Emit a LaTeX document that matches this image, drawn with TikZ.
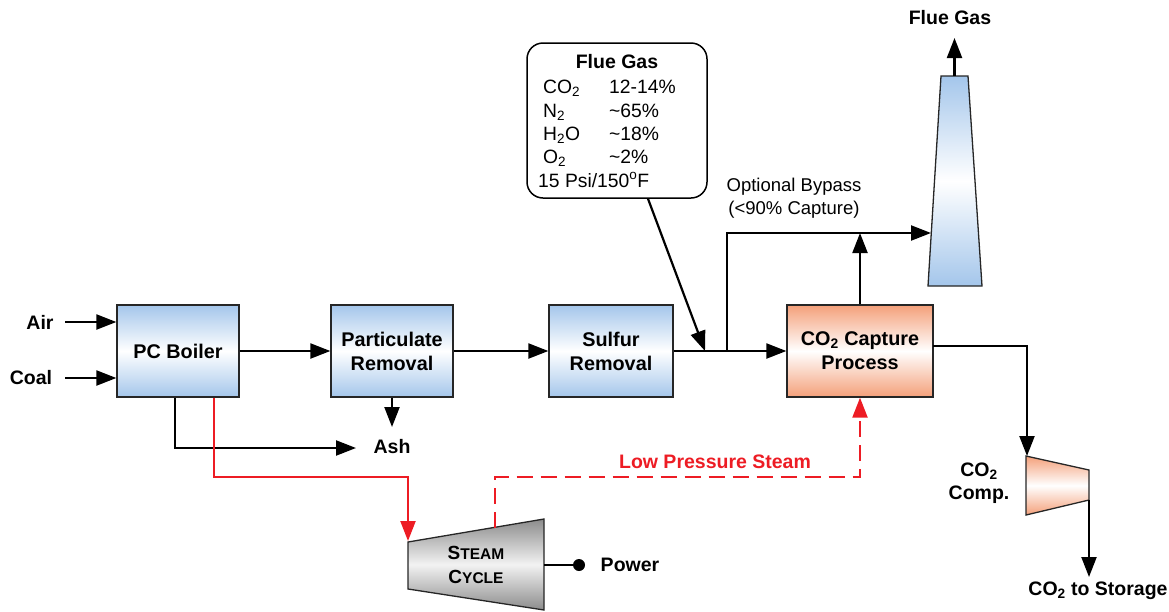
\documentclass[tikz,border=0pt]{standalone}
\usepackage{fontspec}
\setmainfont{Liberation Sans}
\usetikzlibrary{arrows.meta,calc}
\definecolor{blueend}{HTML}{A4C6EB}
\definecolor{orangeend}{HTML}{F4A07A}
\definecolor{grayend}{HTML}{8C8C8C}
\definecolor{redline}{HTML}{ED1C24}
\tikzset{
  proc/.style={draw=black!85, line width=1.3pt, minimum height=92pt, inner sep=0pt, align=center,
    font=\bfseries\fontsize{19.8}{24}\selectfont},
  bluebox/.style={proc, top color=blueend, bottom color=blueend, middle color=white},
  orangebox/.style={proc, top color=orangeend, bottom color=orangeend, middle color=white},
  flow/.style={line width=2.2pt, -{Triangle[length=20pt,width=15pt]}},
  plainline/.style={line width=2.2pt},
  redflow/.style={line width=2.2pt, draw=redline, -{Triangle[length=20pt,width=15pt]}, color=redline},
  reddash/.style={redflow, dash pattern=on 16pt off 8pt},
  lbl/.style={font=\bfseries\fontsize{19.5}{23}\selectfont, inner sep=0pt},
  txt/.style={font=\fontsize{19.3}{23}\selectfont, inner sep=0pt},
}
\begin{document}
\begin{tikzpicture}[x=1pt,y=-1pt]
\useasboundingbox (0,0) rectangle (1169,611);
% process boxes
\node[bluebox, minimum width=122pt] (boiler) at (178,351) {PC Boiler};
\node[bluebox, minimum width=122pt] (part) at (392,351) {Particulate\\Removal};
\node[bluebox, minimum width=124pt] (sulf) at (611,351) {Sulfur\\Removal};
\node[orangebox, minimum width=146pt] (capt) at (860,351) {CO\textsubscript{2} Capture\\Process};

% flue gas composition box
\node[draw, line width=1.5pt, rounded corners=16pt, minimum width=180pt, minimum height=155pt] (fg) at (617,120.5) {};
\node[lbl, anchor=base] (fgt) at (617,68) {Flue Gas};
\node[txt, anchor=base west] (r1a) at (543,93) {CO\textsubscript{2}};
\node[txt, anchor=base west] (r1b) at (609,93) {12-14\%};
\node[txt, anchor=base west] (r2a) at (543,117) {N\textsubscript{2}};
\node[txt, anchor=base west] (r2b) at (609,117) {\textasciitilde65\%};
\node[txt, anchor=base west] (r3a) at (543,140) {H\textsubscript{2}O};
\node[txt, anchor=base west] (r3b) at (609,140) {\textasciitilde18\%};
\node[txt, anchor=base west] (r4a) at (543,163) {O\textsubscript{2}};
\node[txt, anchor=base west] (r4b) at (609,163) {\textasciitilde2\%};
\node[txt, anchor=base west] (r5) at (538,187) {15 Psi/150\textsuperscript{o}F};

% stack
\shade[top color=blueend, bottom color=blueend, middle color=white, draw=black!85, line width=1.3pt]
  (928,286) -- (941,76) -- (968,76) -- (982,286) -- cycle;
\coordinate (stacktop) at (954.5,76);
\coordinate (stackin) at (931,233);
\node[lbl] (fgout) at (950,18) {Flue Gas};

% steam cycle
\shade[top color=grayend, bottom color=grayend, middle color=white!95!black, draw=black!85, line width=1.3pt]
  (408,542) -- (544,519) -- (544,610) -- (408,589) -- cycle;
\coordinate (stin) at (408,541);
\coordinate (sttop) at (495,527.5);
\coordinate (stout) at (544,565);
\node[inner sep=0pt, align=center, font=\bfseries\fontsize{19}{24}\selectfont] (stt) at (476,565)
  {S{\fontsize{15.5}{24}\selectfont TEAM}\\C{\fontsize{15.5}{24}\selectfont YCLE}};
\node[circle, fill=black, inner sep=0pt, minimum size=12pt] (pdot) at (579,565) {};
\node[lbl] (power) at (630,565) {Power};

% compressor
\shade[top color=orangeend, bottom color=orangeend, middle color=white, draw=black!85, line width=1.3pt]
  (1026,456) -- (1089,470) -- (1089,500) -- (1026,515) -- cycle;
\coordinate (compin) at (1027,456);
\coordinate (compout) at (1089,500);
\node[lbl, align=center, font=\bfseries\fontsize{19.5}{23}\selectfont] (complbl) at (979,483) {CO\textsubscript{2}\\Comp.};
\node[lbl] (storage) at (1098,591) {CO\textsubscript{2} to Storage};

% labels
\node[lbl] (air) at (40,322) {Air};
\node[lbl] (coal) at (31,378) {Coal};
\node[lbl] (ash) at (392,447) {Ash};
\node[txt, align=center, font=\fontsize{18.5}{23}\selectfont] (bypass) at (794,198) {Optional Bypass\\(<90\% Capture)};
\node[lbl, text=redline] (lps) at (715,462) {Low Pressure Steam};

% coordinates
\coordinate (j1) at (705,351);
\coordinate (j2) at (727,351);
\coordinate (bp) at (727,233);
\coordinate (ashtip) at (392,427);
\coordinate (ashline) at (356,448);
\coordinate (redc) at (214,477);

% connectors
\draw[flow] (65,322) -- (boiler.west |- 0,322);
\draw[flow] (65,378) -- (boiler.west |- 0,378);
\draw[flow] (boiler.east) -- (part.west);
\draw[flow] (part.east) -- (sulf.west);
\draw[plainline] (sulf.east) -- (j2);
\draw[flow] (j2) -- (capt.west);
\draw[flow] ($(fg.south)+(31,0)$) -- (j1);
\draw[flow] (j2) -- (bp) -- (stackin);
\draw[flow] (capt.north) -- (capt.north |- bp);
\draw[flow] (stacktop) -- (954.5,38);
\draw[flow] (part.south) -- (ashtip);
\draw[flow] (boiler.south -| 175,0) -- (175,448) -- (ashline);
\draw[redflow] (boiler.south -| 214,0) -- (redc) -- (redc -| stin) -- (stin);
\draw[reddash] (sttop) -- (495,477) -- (860,477) -- (capt.south);
\draw[plainline] (stout) -- (pdot);
\draw[flow] (933,346) -- (1027,346) -- (compin);
\draw[flow] (compout) -- (1089,577);
\end{tikzpicture}
\end{document}
